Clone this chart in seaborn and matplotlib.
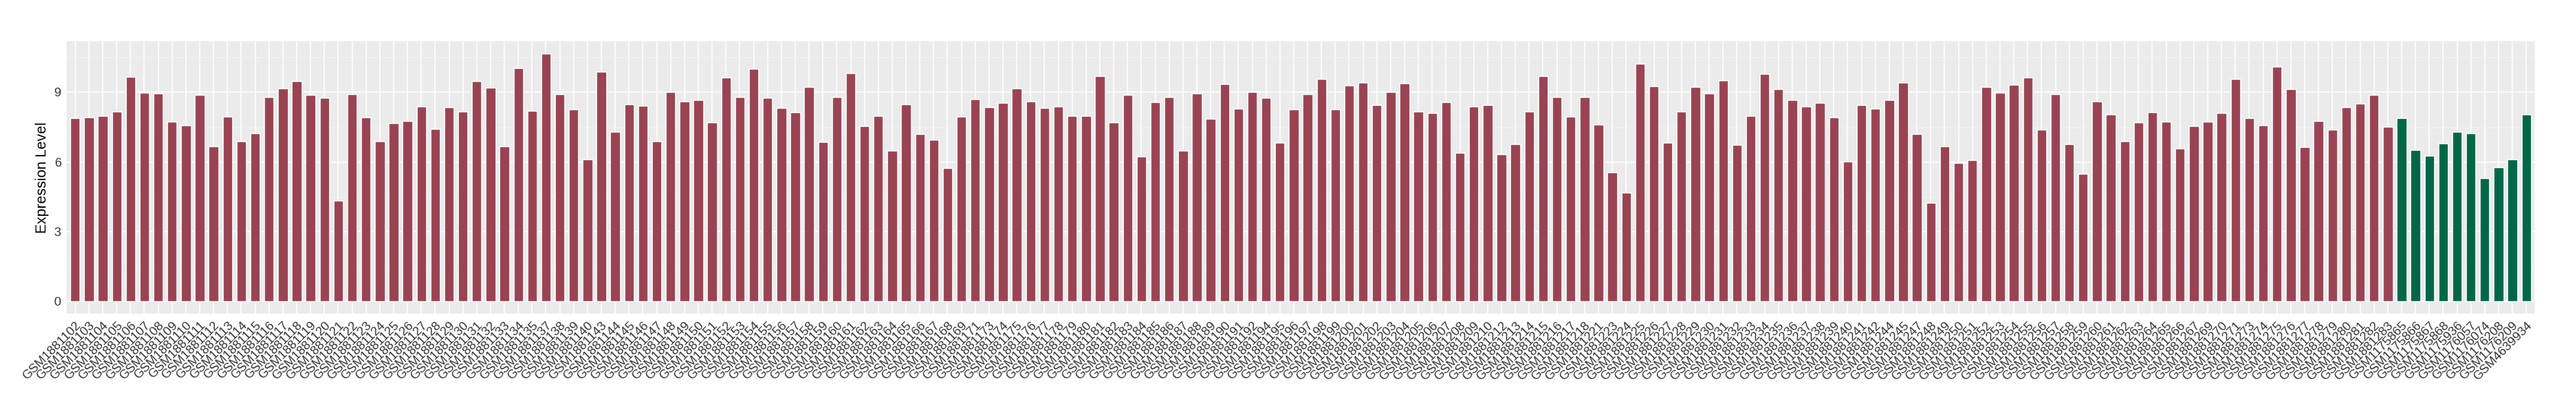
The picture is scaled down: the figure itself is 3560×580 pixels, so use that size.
import matplotlib
matplotlib.use("Agg")
import matplotlib.pyplot as plt
from matplotlib.ticker import MultipleLocator
import pandas as pd
import seaborn as sns

# ------------------------------------------------------------------
# Data
# ------------------------------------------------------------------
tumor_samples = [
    "GSM1881102", "GSM1881103", "GSM1881104", "GSM1881105", "GSM1881106", "GSM1881107",
    "GSM1881108", "GSM1881109", "GSM1881110", "GSM1881111", "GSM1881112", "GSM1881113",
    "GSM1881114", "GSM1881115", "GSM1881116", "GSM1881117", "GSM1881118", "GSM1881119",
    "GSM1881120", "GSM1881121", "GSM1881122", "GSM1881123", "GSM1881124", "GSM1881125",
    "GSM1881126", "GSM1881127", "GSM1881128", "GSM1881129", "GSM1881130", "GSM1881131",
    "GSM1881132", "GSM1881133", "GSM1881134", "GSM1881135", "GSM1881137", "GSM1881138",
    "GSM1881139", "GSM1881140", "GSM1881143", "GSM1881144", "GSM1881145", "GSM1881146",
    "GSM1881147", "GSM1881148", "GSM1881149", "GSM1881150", "GSM1881151", "GSM1881152",
    "GSM1881153", "GSM1881154", "GSM1881155", "GSM1881156", "GSM1881157", "GSM1881158",
    "GSM1881159", "GSM1881160", "GSM1881161", "GSM1881162", "GSM1881163", "GSM1881164",
    "GSM1881165", "GSM1881166", "GSM1881167", "GSM1881168", "GSM1881169", "GSM1881171",
    "GSM1881173", "GSM1881174", "GSM1881175", "GSM1881176", "GSM1881177", "GSM1881178",
    "GSM1881179", "GSM1881180", "GSM1881181", "GSM1881182", "GSM1881183", "GSM1881184",
    "GSM1881185", "GSM1881186", "GSM1881187", "GSM1881188", "GSM1881189", "GSM1881190",
    "GSM1881191", "GSM1881192", "GSM1881194", "GSM1881195", "GSM1881196", "GSM1881197",
    "GSM1881198", "GSM1881199", "GSM1881200", "GSM1881201", "GSM1881202", "GSM1881203",
    "GSM1881204", "GSM1881205", "GSM1881206", "GSM1881207", "GSM1881208", "GSM1881209",
    "GSM1881210", "GSM1881212", "GSM1881213", "GSM1881214", "GSM1881215", "GSM1881216",
    "GSM1881217", "GSM1881218", "GSM1881221", "GSM1881223", "GSM1881224", "GSM1881225",
    "GSM1881226", "GSM1881227", "GSM1881228", "GSM1881229", "GSM1881230", "GSM1881231",
    "GSM1881232", "GSM1881233", "GSM1881234", "GSM1881235", "GSM1881236", "GSM1881237",
    "GSM1881238", "GSM1881239", "GSM1881240", "GSM1881241", "GSM1881242", "GSM1881244",
    "GSM1881245", "GSM1881247", "GSM1881248", "GSM1881249", "GSM1881250", "GSM1881251",
    "GSM1881252", "GSM1881253", "GSM1881254", "GSM1881255", "GSM1881256", "GSM1881257",
    "GSM1881258", "GSM1881259", "GSM1881260", "GSM1881261", "GSM1881262", "GSM1881263",
    "GSM1881264", "GSM1881265", "GSM1881266", "GSM1881267", "GSM1881269", "GSM1881270",
    "GSM1881271", "GSM1881273", "GSM1881274", "GSM1881275", "GSM1881276", "GSM1881277",
    "GSM1881278", "GSM1881279", "GSM1881280", "GSM1881281", "GSM1881282", "GSM1881283",
]

tumor_values = [
    7.88, 7.92, 7.97, 8.17, 9.66, 8.98, 8.94, 7.73, 7.57, 8.88, 6.67, 7.95,
    6.89, 7.24, 8.79, 9.16, 9.47, 8.88, 8.76, 4.33, 8.92, 7.92, 6.89, 7.66,
    7.77, 8.39, 7.42, 8.35, 8.17, 9.47, 9.20, 6.67, 10.04, 8.19, 10.66, 8.92,
    8.26, 6.11, 9.88, 7.29, 8.48, 8.41, 6.89, 9.01, 8.61, 8.67, 7.70, 9.63,
    8.79, 10.00, 8.76, 8.32, 8.14, 9.23, 6.86, 8.79, 9.82, 7.55, 7.97, 6.49,
    8.48, 7.20, 6.95, 5.74, 7.95, 8.70, 8.35, 8.54, 9.16, 8.61, 8.32, 8.39,
    7.97, 7.97, 9.69, 7.70, 8.88, 6.23, 8.57, 8.79, 6.49, 8.94, 7.86, 9.35,
    8.29, 9.01, 8.76, 6.82, 8.26, 8.92, 9.56, 8.26, 9.29, 9.41, 8.45, 9.01,
    9.38, 8.17, 8.10, 8.57, 6.40, 8.39, 8.45, 6.33, 6.76, 8.17, 9.69, 8.79,
    7.95, 8.79, 7.61, 5.55, 4.68, 10.22, 9.25, 6.82, 8.17, 9.23, 8.94, 9.51,
    6.73, 7.97, 9.78, 9.13, 8.67, 8.39, 8.54, 7.92, 6.02, 8.45, 8.29, 8.67,
    9.41, 7.20, 4.24, 6.67, 5.96, 6.08, 9.23, 8.98, 9.32, 9.63, 7.39, 8.92,
    6.76, 5.49, 8.61, 8.04, 6.89, 7.70, 8.14, 7.73, 6.58, 7.55, 7.73, 8.10,
    9.56, 7.88, 7.57, 10.09, 9.13, 6.64, 7.77, 7.39, 8.35, 8.50, 8.88, 7.51,
]

normal_samples = [
    "GSM1175865", "GSM1175866", "GSM1175867", "GSM1175868", "GSM1175936",
    "GSM1176057", "GSM1176074", "GSM1176208", "GSM1176209", "GSM4639934",
]

normal_values = [7.89, 6.52, 6.27, 6.80, 7.30, 7.23, 5.30, 5.77, 6.11, 8.04]

group_colors = {"Tumor": "#9A4352", "Normal": "#026747"}

df = pd.DataFrame({
    "sample": tumor_samples + normal_samples,
    "expr": tumor_values + normal_values,
    "group": ["Tumor"] * len(tumor_samples) + ["Normal"] * len(normal_samples),
})

# ------------------------------------------------------------------
# Style (ggplot2 grey theme look-alike)
# ------------------------------------------------------------------
sns.set_theme(style="darkgrid", rc={
    "axes.facecolor": "#EBEBEB",
    "grid.color": "white",
    "figure.facecolor": "white",
})
plt.rcParams["font.family"] = ["Liberation Sans", "DejaVu Sans"]

fig = plt.figure(figsize=(35.6, 5.8), dpi=100)
ax = fig.add_axes([0.02593, 0.2529, 0.95797, 0.6488])

sns.barplot(
    data=df, x="sample", y="expr", hue="group",
    palette=group_colors, dodge=False, width=0.7,
    saturation=1, legend=False, ax=ax,
)

n = len(df)
ymax = df["expr"].max()
ax.set_xlim(-0.6, n - 1 + 0.6)
ax.set_ylim(-0.05 * ymax, ymax * 1.05)

ax.yaxis.set_major_locator(MultipleLocator(3))
ax.yaxis.set_minor_locator(MultipleLocator(1.5))
ax.grid(which="major", color="white", linewidth=1.1)
ax.grid(which="minor", axis="y", color="#F5F5F5", linewidth=0.6)
ax.set_axisbelow(True)
for s in ax.spines.values():
    s.set_visible(False)

ax.tick_params(axis="both", which="major", length=3.8, width=1.0,
               color="#333333", labelcolor="#333333", labelsize=12.5, pad=2)
ax.tick_params(axis="y", which="minor", length=0)
plt.setp(ax.get_xticklabels(), rotation=45, ha="right", va="top",
         rotation_mode="anchor")

ax.set_xlabel("")
ax.set_ylabel("Expression Level", fontsize=14.5, color="black", labelpad=5)

fig.savefig("out.png", dpi=100)
